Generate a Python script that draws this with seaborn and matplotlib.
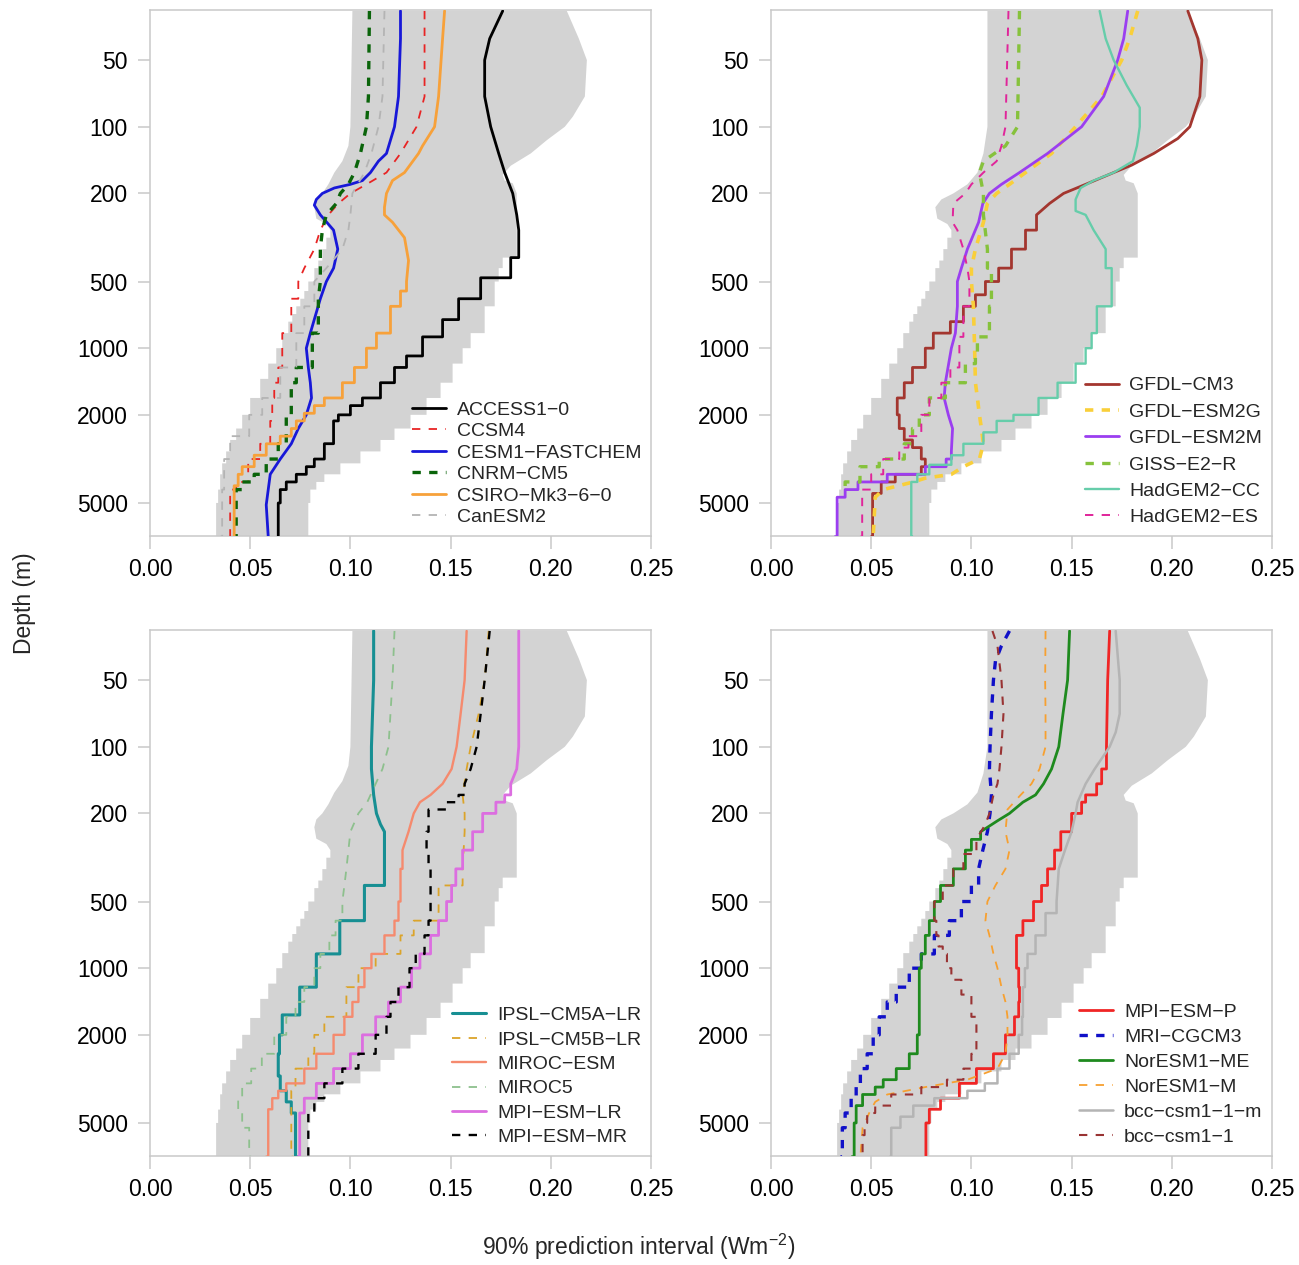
import matplotlib
matplotlib.use("Agg")
import matplotlib.pyplot as plt
from matplotlib.ticker import NullLocator
import pandas as pd
import seaborn as sns

# ---------------- gray band (lower edge differs slightly near the surface between columns) ----------------
env_min_left_depth = [30, 100, 122, 143, 161, 182, 200, 213, 231, 260, 275, 293, 317, 357, 402, 435, 500, 552,
                      598, 647, 701, 759, 855, 1000, 1174, 1376, 1678, 2000, 2306, 2597, 2926, 3312, 3712, 4351,
                      5000, 7100]
env_min_left_value = [0.101, 0.100, 0.099, 0.096, 0.092, 0.089, 0.086, 0.083, 0.082, 0.083, 0.088, 0.090,
                      0.088, 0.086, 0.084, 0.082, 0.079, 0.077, 0.075, 0.073, 0.071, 0.069, 0.066, 0.063,
                      0.059, 0.055, 0.050, 0.046, 0.043, 0.040, 0.038, 0.036, 0.035, 0.034, 0.033, 0.033]
env_min_right_depth = [30, 100, 132, 161, 182, 200, 213, 231, 260, 275, 293, 317, 357, 402, 435, 500, 552,
                       598, 647, 701, 759, 855, 1000, 1174, 1376, 1678, 2000, 2306, 2597, 2926, 3312, 3712,
                       4351, 5000, 7100]
env_min_right_value = [0.108, 0.108, 0.106, 0.103, 0.098, 0.091, 0.085, 0.082, 0.083, 0.088, 0.090, 0.088,
                       0.086, 0.084, 0.082, 0.079, 0.077, 0.075, 0.073, 0.071, 0.069, 0.066, 0.063, 0.059,
                       0.055, 0.050, 0.046, 0.043, 0.040, 0.038, 0.036, 0.035, 0.034, 0.033, 0.033]
env_max_depth = [30, 40, 50, 73, 90, 100, 115, 132, 150, 165, 175, 180, 200, 250, 300, 380, 390, 435, 500,
                 647, 855, 1000, 1174, 1432, 1678, 2000, 2306, 2597, 2926, 3312, 3712, 4019, 4351, 5000, 7100]
env_max_value = [0.208, 0.214, 0.218, 0.217, 0.211, 0.207, 0.198, 0.190, 0.180, 0.176, 0.177, 0.181, 0.183,
                 0.183, 0.183, 0.183, 0.176, 0.174, 0.172, 0.167, 0.160, 0.156, 0.151, 0.145, 0.138, 0.130,
                 0.122, 0.115, 0.105, 0.095, 0.087, 0.083, 0.080, 0.079, 0.078]
env_min_step_from = 300
env_max_step_from = 380

# ---------------- panel 1 ----------------
access_depth = [30, 40, 50, 73, 100, 132, 161, 200, 250, 293, 380, 390, 481, 598, 743, 889, 1084, 1222, 1432,
                1678, 1817, 2000, 2130, 2700, 3167, 3429, 3712, 4019, 4351, 5000, 7100]
access_value = [0.176, 0.1695, 0.167, 0.167, 0.170, 0.174, 0.177, 0.181, 0.183, 0.184, 0.184, 0.180, 0.165,
                0.154, 0.146, 0.136, 0.128, 0.122, 0.115, 0.106, 0.100, 0.094, 0.0916, 0.087, 0.082, 0.078,
                0.073, 0.068, 0.065, 0.064, 0.064]
ccsm4_depth = [30, 73, 100, 132, 161, 182, 200, 222, 250, 293, 357, 435, 500, 598, 855, 1222, 1432, 1678,
               2130, 2702, 3167, 4019, 4351, 7100]
ccsm4_value = [0.137, 0.137, 0.133, 0.125, 0.118, 0.108, 0.100, 0.094, 0.089, 0.085, 0.082, 0.077, 0.074,
               0.0705, 0.066, 0.064, 0.062, 0.061, 0.060, 0.055, 0.049, 0.043, 0.040, 0.040]
cesm_depth = [30, 40, 73, 100, 132, 143, 161, 175, 182, 189, 200, 213, 226, 250, 293, 357, 435, 500, 598,
              855, 1000, 1222, 1432, 1678, 2000, 2306, 2702, 3167, 3712, 4351, 5100, 7100]
cesm_value = [0.125, 0.125, 0.124, 0.122, 0.118, 0.114, 0.110, 0.106, 0.100, 0.092, 0.086, 0.083, 0.082,
              0.085, 0.0916, 0.0937, 0.0916, 0.088, 0.085, 0.080, 0.078, 0.079, 0.080, 0.0806, 0.078, 0.074,
              0.0705, 0.065, 0.060, 0.059, 0.058, 0.059]
cnrm_depth = [30, 73, 100, 132, 161, 182, 200, 222, 250, 293, 357, 500, 598, 855, 1222, 1432, 2000, 2702,
              3167, 3712, 4019, 4351, 7100]
cnrm_value = [0.1095, 0.109, 0.108, 0.105, 0.102, 0.099, 0.095, 0.093, 0.088, 0.086, 0.085, 0.085, 0.084,
              0.081, 0.073, 0.0705, 0.068, 0.064, 0.058, 0.052, 0.046, 0.043, 0.042]
csiro_depth = [30, 40, 73, 100, 122, 132, 161, 175, 200, 231, 250, 270, 317, 402, 500, 552, 647, 855, 1000,
               1222, 1432, 1678, 1817, 1967, 2130, 2306, 2496, 2702, 3044, 3429, 3712, 4181, 7100]
csiro_value = [0.147, 0.146, 0.144, 0.142, 0.136, 0.134, 0.127, 0.121, 0.118, 0.117, 0.117, 0.121, 0.127,
               0.129, 0.128, 0.125, 0.120, 0.113, 0.108, 0.102, 0.096, 0.087, 0.082, 0.077, 0.073, 0.0705,
               0.065, 0.058, 0.052, 0.046, 0.044, 0.042, 0.042]
canesm_depth = [30, 73, 100, 132, 161, 200, 250, 293, 357, 435, 500, 647, 855, 1222, 1678, 2000, 2496, 3167,
                4351, 7100]
canesm_value = [0.117, 0.116, 0.114, 0.1105, 0.107, 0.101, 0.100, 0.099, 0.096, 0.088, 0.082, 0.077, 0.073,
                0.065, 0.056, 0.0495, 0.040, 0.037, 0.036, 0.035]

# ---------------- panel 2 ----------------
gfdlcm3_depth = [30, 40, 50, 73, 100, 113, 132, 149, 161, 182, 200, 222, 250, 293, 357, 435, 500, 574, 647,
                 759, 855, 1000, 1222, 1432, 1678, 2000, 2306, 2597, 2812, 3167, 3429, 3712, 4019, 4529, 7100]
gfdlcm3_value = [0.208, 0.213, 0.215, 0.214, 0.209, 0.203, 0.191, 0.180, 0.171, 0.157, 0.146, 0.139, 0.1325,
                 0.127, 0.120, 0.1136, 0.107, 0.102, 0.096, 0.0895, 0.081, 0.077, 0.0706, 0.0665, 0.063,
                 0.064, 0.0665, 0.0706, 0.075, 0.077, 0.075, 0.062, 0.055, 0.0507, 0.050]
esm2g_depth = [30, 40, 50, 73, 100, 132, 161, 182, 200, 222, 270, 357, 435, 500, 647, 1000, 1432, 1678, 2000,
               2306, 2702, 3167, 3429, 3712, 3863, 4019, 4351, 4711, 7100]
esm2g_value = [0.183, 0.179, 0.175, 0.165, 0.152, 0.140, 0.127, 0.119, 0.1126, 0.108, 0.106, 0.102, 0.100,
               0.100, 0.101, 0.1016, 0.102, 0.103, 0.104, 0.105, 0.106, 0.104, 0.096, 0.090, 0.077, 0.071,
               0.056, 0.052, 0.051]
esm2m_depth = [30, 40, 50, 73, 100, 132, 161, 182, 200, 222, 270, 357, 435, 500, 647, 855, 1000, 1432, 1678,
               2000, 2306, 2926, 3167, 3429, 3712, 4019, 4351, 4711, 7100]
esm2m_value = [0.178, 0.176, 0.173, 0.166, 0.155, 0.138, 0.124, 0.115, 0.109, 0.1057, 0.1036, 0.098, 0.095,
               0.093, 0.093, 0.092, 0.090, 0.087, 0.0864, 0.0885, 0.0906, 0.090, 0.0874, 0.077, 0.058,
               0.0434, 0.037, 0.033, 0.032]
giss_depth = [30, 100, 122, 143, 161, 200, 250, 357, 435, 647, 889, 1084, 1174, 1432, 1678, 2000, 2306, 2702,
              3167, 3429, 4019, 4351]
giss_value = [0.124, 0.123, 0.117, 0.106, 0.104, 0.106, 0.106, 0.108, 0.110, 0.109, 0.103, 0.102, 0.097,
              0.087, 0.079, 0.074, 0.0706, 0.0665, 0.054, 0.0444, 0.037, 0.035]
hadcc_depth = [30, 40, 50, 65, 82, 100, 122, 143, 161, 175, 189, 213, 240, 250, 293, 357, 435, 500, 647, 855,
               1000, 1174, 1432, 1678, 2000, 2130, 2399, 2702, 3044, 3362, 3712, 4019, 7100]
hadcc_value = [0.164, 0.167, 0.171, 0.1775, 0.184, 0.184, 0.1826, 0.1806, 0.171, 0.161, 0.1545, 0.152, 0.152,
               0.157, 0.161, 0.167, 0.170, 0.170, 0.1626, 0.160, 0.157, 0.152, 0.143, 0.1335, 0.121, 0.1126,
               0.106, 0.096, 0.090, 0.079, 0.073, 0.070, 0.0706]
hades_depth = [30, 100, 122, 143, 161, 182, 200, 222, 270, 293, 357, 435, 500, 647, 889, 1222, 1432, 1678,
               2000, 2496, 2812, 3167, 3712, 4351, 7100]
hades_value = [0.1185, 0.117, 0.115, 0.1126, 0.106, 0.100, 0.097, 0.091, 0.0906, 0.093, 0.096, 0.098, 0.099,
               0.096, 0.094, 0.0895, 0.085, 0.079, 0.075, 0.0686, 0.064, 0.056, 0.050, 0.0455, 0.0444]

# ---------------- panel 3 ----------------
ipsla_depth = [30, 50, 100, 126, 165, 200, 224, 242, 423, 610, 862, 1218, 1626, 2000, 2435, 3069, 3578, 4016,
               4508, 7100]
ipsla_value = [0.1116, 0.1116, 0.1105, 0.1105, 0.1116, 0.113, 0.115, 0.117, 0.107, 0.0947, 0.083, 0.0747,
               0.066, 0.0646, 0.064, 0.065, 0.068, 0.0705, 0.0726, 0.0737]
ipslb_depth = [30, 50, 71, 100, 126, 165, 200, 242, 356, 423, 610, 711, 862, 1000, 1218, 1658, 2000, 2435,
               2841, 3578, 4508, 7100]
ipslb_value = [0.169, 0.167, 0.164, 0.160, 0.158, 0.156, 0.157, 0.157, 0.156, 0.144, 0.1316, 0.125, 0.1126,
               0.104, 0.098, 0.087, 0.082, 0.079, 0.0726, 0.0705, 0.0705, 0.0716]
mirocesm_depth = [30, 50, 71, 100, 126, 147, 165, 178, 200, 242, 293, 356, 500, 610, 711, 862, 1000, 1218,
                  1421, 1658, 2000, 2435, 2841, 3313, 3578, 3865, 4337, 7100]
mirocesm_value = [0.158, 0.157, 0.155, 0.153, 0.1505, 0.146, 0.140, 0.1347, 0.1316, 0.129, 0.126, 0.125,
                  0.124, 0.122, 0.117, 0.1105, 0.107, 0.104, 0.101, 0.097, 0.0916, 0.083, 0.077, 0.068,
                  0.064, 0.061, 0.059, 0.058]
miroc5_depth = [30, 50, 100, 126, 147, 178, 200, 242, 293, 356, 423, 500, 610, 711, 862, 1000, 1218, 1421,
                1658, 2000, 2435, 2841, 3313, 3865, 4508, 5257, 7100]
miroc5_value = [0.122, 0.121, 0.119, 0.116, 0.1126, 0.1084, 0.104, 0.100, 0.099, 0.098, 0.097, 0.096,
                0.0926, 0.0895, 0.085, 0.082, 0.077, 0.0726, 0.068, 0.062, 0.0558, 0.0505, 0.046, 0.044,
                0.046, 0.0495, 0.0505]
mpilr_depth = [30, 50, 100, 126, 147, 165, 178, 200, 242, 293, 356, 423, 500, 610, 711, 862, 1000, 1218, 1421,
               1658, 2000, 2435, 2841, 3313, 3865, 4508, 7100]
mpilr_value = [0.184, 0.184, 0.184, 0.183, 0.180, 0.177, 0.1726, 0.166, 0.161, 0.156, 0.1526, 0.1505, 0.148,
               0.144, 0.140, 0.1347, 0.1305, 0.125, 0.119, 0.1126, 0.106, 0.100, 0.0916, 0.083, 0.077,
               0.0747, 0.0737]
mpimr_depth = [30, 50, 71, 100, 126, 147, 165, 178, 192, 242, 293, 356, 500, 610, 711, 862, 1000, 1218, 1421,
               1658, 2000, 2435, 2841, 3313, 3865, 4508, 7100]
mpimr_value = [0.1695, 0.167, 0.165, 0.163, 0.160, 0.157, 0.154, 0.148, 0.139, 0.138, 0.139, 0.140, 0.140,
               0.139, 0.137, 0.1326, 0.1295, 0.124, 0.120, 0.118, 0.1126, 0.104, 0.096, 0.087, 0.082, 0.079,
               0.0785]

# ---------------- panel 4 ----------------
mpip_depth = [30, 50, 100, 126, 147, 165, 178, 200, 242, 293, 356, 423, 500, 610, 711, 862, 1000, 1218, 1421,
              1658, 2000, 2435, 2841, 3313, 3865, 4337, 5000, 7100]
mpip_value = [0.169, 0.168, 0.1674, 0.165, 0.1625, 0.157, 0.155, 0.150, 0.1446, 0.1415, 0.138, 0.135, 0.131,
              0.1257, 0.1225, 0.1225, 0.1236, 0.124, 0.1236, 0.1215, 0.117, 0.111, 0.1025, 0.094, 0.0846,
              0.079, 0.0773, 0.0773]
mri_depth = [30, 35, 41, 50, 71, 100, 126, 165, 200, 242, 293, 356, 423, 500, 610, 711, 862, 1000, 1218, 1421,
             1658, 2000, 2435, 2841, 3313, 3865, 4508, 5257, 7100]
mri_value = [0.119, 0.115, 0.112, 0.111, 0.110, 0.1093, 0.109, 0.110, 0.1093, 0.108, 0.1057, 0.1036, 0.100,
             0.095, 0.089, 0.0815, 0.075, 0.069, 0.0625, 0.058, 0.054, 0.051, 0.048, 0.0446, 0.0425, 0.040,
             0.037, 0.0356, 0.0347]
noresme_depth = [30, 50, 71, 100, 126, 147, 165, 178, 200, 216, 242, 262, 293, 356, 423, 500, 610, 711, 862,
                 1000, 1218, 1421, 1658, 2000, 2435, 2841, 3188, 3443, 3719, 4174, 5000, 7100]
noresme_value = [0.149, 0.148, 0.1457, 0.1436, 0.140, 0.136, 0.132, 0.1257, 0.119, 0.113, 0.1046, 0.100,
                 0.097, 0.091, 0.0846, 0.0815, 0.079, 0.077, 0.075, 0.074, 0.074, 0.074, 0.074, 0.073, 0.069,
                 0.0625, 0.056, 0.052, 0.0457, 0.0425, 0.0415, 0.0404]
noresm_depth = [30, 50, 71, 100, 126, 147, 165, 192, 242, 293, 356, 423, 500, 610, 711, 862, 1000, 1218,
                1421, 1658, 2000, 2435, 2841, 3188, 3443, 3719, 4016, 4508, 5257, 7100]
noresm_value = [0.137, 0.1368, 0.137, 0.137, 0.134, 0.130, 0.1246, 0.118, 0.117, 0.119, 0.117, 0.112, 0.108,
                0.107, 0.109, 0.111, 0.113, 0.115, 0.117, 0.118, 0.118, 0.117, 0.113, 0.098, 0.077, 0.058,
                0.052, 0.049, 0.0457, 0.0446]
bccm_depth = [30, 50, 71, 86, 100, 126, 147, 178, 200, 242, 293, 356, 500, 564, 711, 862, 1000, 1218, 1658,
              2000, 2435, 2841, 3313, 3578, 3865, 4174, 4684, 5257, 7100]
bccm_value = [0.172, 0.174, 0.174, 0.172, 0.169, 0.1615, 0.157, 0.153, 0.152, 0.150, 0.1467, 0.1436, 0.1425,
              0.137, 0.132, 0.128, 0.1267, 0.1257, 0.1253, 0.1236, 0.119, 0.113, 0.1067, 0.098, 0.0815, 0.071,
              0.0646, 0.060, 0.0594]
bcc_depth = [30, 35, 50, 71, 100, 126, 147, 165, 200, 224, 262, 305, 356, 423, 500, 610, 711, 798, 862, 1000,
             1128, 1316, 1658, 2000, 2435, 2841, 3188, 3443, 3719, 4174, 4508, 5000, 5675, 7100]
bcc_value = [0.1105, 0.113, 0.115, 0.116, 0.115, 0.114, 0.113, 0.111, 0.109, 0.107, 0.1025, 0.096, 0.091,
             0.0857, 0.0815, 0.0825, 0.0836, 0.0857, 0.0878, 0.090, 0.095, 0.100, 0.1025, 0.1025, 0.100, 0.096,
             0.0878, 0.075, 0.060, 0.052, 0.048, 0.0467, 0.0457, 0.0457]

# axis ticks
depth_ticks = [50, 100, 200, 500, 1000, 2000, 5000]
value_ticks = [0.00, 0.05, 0.10, 0.15, 0.20, 0.25]

# ---------------- styles (name, depth, value, step_from, color, lw, dashed) ----------------
M = "\u2212"
panels = [
    [("ACCESS1" + M + "0", access_depth, access_value, 380, "#000000", 2.0, False),
     ("CCSM4", ccsm4_depth, ccsm4_value, 500, "#e82424", 1.3, True),
     ("CESM1" + M + "FASTCHEM", cesm_depth, cesm_value, 1e9, "#1818d8", 2.0, False),
     ("CNRM" + M + "CM5", cnrm_depth, cnrm_value, 600, "#0a640a", 2.4, True),
     ("CSIRO" + M + "Mk3" + M + "6" + M + "0", csiro_depth, csiro_value, 520, "#f7a13a", 2.0, False),
     ("CanESM2", canesm_depth, canesm_value, 600, "#b4b4b4", 1.3, True)],
    [("GFDL" + M + "CM3", gfdlcm3_depth, gfdlcm3_value, 280, "#a3362f", 2.0, False),
     ("GFDL" + M + "ESM2G", esm2g_depth, esm2g_value, 1e9, "#f9cf3a", 2.6, True),
     ("GFDL" + M + "ESM2M", esm2m_depth, esm2m_value, 3000, "#9b3ef0", 2.0, False),
     ("GISS" + M + "E2" + M + "R", giss_depth, giss_value, 400, "#86c23c", 2.4, True),
     ("HadGEM2" + M + "CC", hadcc_depth, hadcc_value, 400, "#66cdaa", 1.7, False),
     ("HadGEM2" + M + "ES", hades_depth, hades_value, 500, "#e0259a", 1.4, True)],
    [("IPSL" + M + "CM5A" + M + "LR", ipsla_depth, ipsla_value, 400, "#178f93", 2.2, False),
     ("IPSL" + M + "CM5B" + M + "LR", ipslb_depth, ipslb_value, 400, "#dba42a", 1.3, True),
     ("MIROC" + M + "ESM", mirocesm_depth, mirocesm_value, 300, "#f58a6e", 1.7, False),
     ("MIROC5", miroc5_depth, miroc5_value, 600, "#8dc08d", 1.3, True),
     ("MPI" + M + "ESM" + M + "LR", mpilr_depth, mpilr_value, 150, "#dc6ee0", 2.0, False),
     ("MPI" + M + "ESM" + M + "MR", mpimr_depth, mpimr_value, 150, "#000000", 1.7, True)],
    [("MPI" + M + "ESM" + M + "P", mpip_depth, mpip_value, 120, "#f02525", 2.0, False),
     ("MRI" + M + "CGCM3", mri_depth, mri_value, 400, "#1010c8", 2.4, True),
     ("NorESM1" + M + "ME", noresme_depth, noresme_value, 250, "#1e8a1e", 2.0, False),
     ("NorESM1" + M + "M", noresm_depth, noresm_value, 1e9, "#f7a030", 1.3, True),
     ("bcc" + M + "csm1" + M + "1" + M + "m", bccm_depth, bccm_value, 500, "#b4b4b4", 1.8, False),
     ("bcc" + M + "csm1" + M + "1", bcc_depth, bcc_value, 300, "#993333", 1.5, True)],
]
legend_spacing = [0.2, 0.45, 0.35, 0.38]


def staircase(depths, values, step_from):
    d_out, v_out = [depths[0]], [values[0]]
    for i in range(1, len(depths)):
        if depths[i] > step_from:
            d_out.append(depths[i])
            v_out.append(values[i - 1])
        d_out.append(depths[i])
        v_out.append(values[i])
    return d_out, v_out


sns.set_style("white")
plt.rcParams["font.family"] = ["Liberation Sans", "DejaVu Sans"]
plt.rcParams["mathtext.default"] = "regular"
plt.rcParams["lines.scale_dashes"] = False

fig = plt.figure(figsize=(12.99, 12.65), dpi=100)
W, H = 1299.0, 1265.0
rects = [(150, 10), (771, 10), (150, 630), (771, 630)]
aw, ah = 501, 526

emax_d, emax_v = staircase(env_max_depth, env_max_value, env_max_step_from)
env_polys = []
for md, mv in [(env_min_left_depth, env_min_left_value), (env_min_right_depth, env_min_right_value)]:
    emin_d, emin_v = staircase(md, mv, env_min_step_from)
    env_polys.append((emin_v + emax_v[::-1], emin_d + emax_d[::-1]))

box_col = "#c9c9c9"
for k, (x0, y0) in enumerate(rects):
    ax = fig.add_axes([x0 / W, 1 - (y0 + ah) / H, aw / W, ah / H])
    pv, pd_ = env_polys[k % 2]
    ax.fill(pv, pd_, color="#d3d3d3", lw=0, zorder=1)
    for name, dep, val, sf, col, lw, dashed in panels[k]:
        d, v = staircase(dep, val, sf)
        df = pd.DataFrame({"value": v, "depth": d})
        ls = (0, (6, 6)) if dashed else "-"
        sns.lineplot(data=df, x="value", y="depth", sort=False, estimator=None, ax=ax,
                     color=col, lw=lw, linestyle=ls, label=name, zorder=3)
    ax.set_yscale("log")
    ax.set_ylim(7050, 29.7)
    ax.set_xlim(0, 0.25)
    ax.set_yticks(depth_ticks)
    ax.set_yticklabels([str(t) for t in depth_ticks])
    ax.yaxis.set_minor_locator(NullLocator())
    ax.set_xticks(value_ticks)
    ax.set_xticklabels(["%.2f" % t for t in value_ticks])
    ax.set_xlabel("")
    ax.set_ylabel("")
    for sp in ax.spines.values():
        sp.set_color(box_col)
        sp.set_linewidth(1.1)
        sp.set_visible(True)
    ax.tick_params(axis="both", which="major", length=9, width=1.1, color=box_col,
                   labelsize=16.5, pad=7, labelcolor="black", direction="out",
                   left=True, bottom=True)
    ax.legend(loc="lower right", bbox_to_anchor=(1.0, 0.0), frameon=False, fontsize=14,
              handlelength=1.75, handletextpad=0.55, labelspacing=legend_spacing[k],
              borderaxespad=0.3, borderpad=0.2)

fig.text(25 / W, 1 - 603 / H, "Depth (m)", rotation=90, ha="center", va="center", fontsize=16.5)
fig.text(639 / W, 1 - 1247 / H, "90% prediction interval (Wm$^{-2}$)", ha="center", va="center",
         fontsize=16.5)

fig.savefig("out.png", dpi=100)
